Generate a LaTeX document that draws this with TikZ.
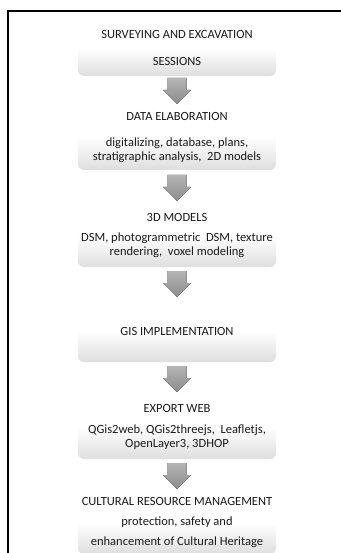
\documentclass[tikz,border=0pt]{standalone}
\usepackage{fontspec}
\setmainfont{Carlito}
\usetikzlibrary{calc}
\definecolor{boxgray}{RGB}{222,222,222}
\definecolor{arrowgray}{RGB}{140,140,140}

\begin{document}
\begin{tikzpicture}[x=1pt, y=1pt,
  every node/.style={font=\fontsize{12.5}{14}\selectfont},
  stage/.style={rounded corners=6pt, top color=white, bottom color=boxgray,
                middle color=white, minimum width=198pt, align=center,
                inner sep=0pt, text=black!90},
  downarrow/.style={top color=arrowgray!65, bottom color=arrowgray},
]
\useasboundingbox (0,0) rectangle (340,-553);

%% Frame (top and left)
\draw[line width=2pt] (8,-560) -- (8,-11) -- (345,-11);

%% Stage boxes
\node[stage, minimum height=56pt] (s1) at (177,-48)
  {SURVEYING AND EXCAVATION\\[13pt]SESSIONS};
\node[stage, minimum height=65pt] (s2) at (177,-137.5)
  {DATA ELABORATION\\[12pt]digitalizing,\ database, plans,\\
   stratigraphic analysis,\ \ 2D models};
\node[stage, minimum height=62pt] (s3) at (177,-236)
  {3D MODELS\\[6pt]DSM, photogrammetric\ \ DSM, texture\\
   rendering,\ \ voxel modeling};
\node[stage, minimum height=62pt] (s4) at (177,-331)
  {GIS IMPLEMENTATION};
\node[stage, minimum height=64pt] (s5) at (177,-427)
  {EXPORT WEB\\[7pt]QGis2web, QGis2threejs,\ \ Leafletjs,\\
   OpenLayer3, 3DHOP};
\node[stage, minimum height=62pt] (s6) at (177,-523)
  {CULTURAL RESOURCE MANAGEMENT\\[6pt]protection, safety and\\[6pt]
   enhancement of Cultural Heritage};

%% Block arrows between stages
\foreach \a/\b in {s1/s2, s2/s3, s3/s4, s4/s5, s5/s6} {
  \coordinate (m\a) at ($(\a.south)!0.5!(\b.north)$);
  \fill[downarrow] ($(m\a)+(-9.5,12.5)$) -- ++(19,0) -- ++(0,-12)
    -- ++(4.5,0) -- ++(-14,-14) -- ++(-14,14) -- ++(4.5,0) -- cycle;
}

\end{tikzpicture}
\end{document}
